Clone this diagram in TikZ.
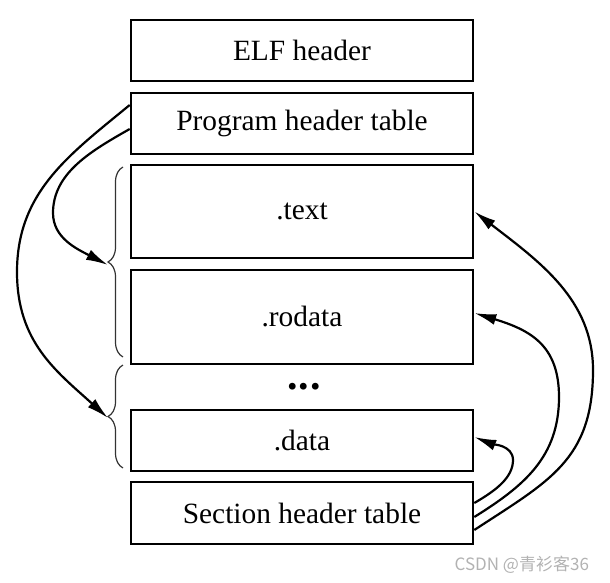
\documentclass[tikz,border=0pt]{standalone}
\usepackage{fontspec}
\setmainfont{Liberation Serif}
\newfontfamily\cjkfont{Noto Sans CJK SC}
\usetikzlibrary{arrows.meta,decorations.pathreplacing}

\begin{document}
\begin{tikzpicture}[x=.5pt,y=-.5pt,
    part/.style={draw,line width=1.3pt,minimum width=171pt,inner sep=0pt,
      font=\fontsize{14.7}{17}\selectfont},
    link/.style={line width=1.1pt,-{Latex[length=11pt,width=5.5pt]}},
    grp/.style={decorate,decoration={brace,amplitude=7.5pt},line width=.6pt,draw=black!80}]
    \useasboundingbox (0,0) rectangle (610,583);

    % file layout
    \node[part,minimum height=30.5pt] (elf) at (302,50.5) {ELF header};
    \node[part,minimum height=30.5pt] (pht) at (302,123.5) {Program header table};
    \node[part,minimum height=46.5pt] (text) at (302,211.5) {.text};
    \node[part,minimum height=47pt] (rodata) at (302,317) {.rodata};
    \node[font=\bfseries\fontsize{21}{24}\selectfont] (dots) at (304,387) {.\hspace{.6pt}.\hspace{.6pt}.};
    \node[part,minimum height=30.5pt] (data) at (302,440.5) {.data};
    \node[part,minimum height=31pt] (sht) at (302,513) {Section header table};

    % segments
    \draw[grp] (123,357) -- (123,167);
    \draw[grp] (123,468) -- (123,365);
    \coordinate (seg1) at (108,265);
    \coordinate (seg2) at (108,418);

    \draw[link] ([yshift=9.25pt]pht.west) .. controls (69,155) and (17,192) .. (17,272)
      .. controls (17,342) and (56,371) .. (seg2);
    \draw[link] ([yshift=-2.75pt]pht.west) .. controls (91,151) and (53,173) .. (53,213)
      .. controls (53,238) and (77,249) .. (seg1);

    \draw[link] ([yshift=-8.5pt]sht.east) .. controls (549,481) and (593,460) .. (593,370)
      .. controls (593,300) and (540,262) .. (text.east);
    \draw[link] ([yshift=-2pt]sht.east) .. controls (524,486) and (559,457) .. (559,397)
      .. controls (559,345) and (530,330) .. ([yshift=2pt]rodata.east);
    \draw[link] ([yshift=5pt]sht.east) .. controls (495,491) and (513,478) .. (513,460)
      .. controls (513,445) and (492,444) .. ([yshift=1.75pt]data.east);

    \node[anchor=east,text=black!30,font=\cjkfont\fontsize{8.5}{10}\selectfont] (mark) at (596,565) {CSDN @青衫客36};
\end{tikzpicture}
\end{document}
